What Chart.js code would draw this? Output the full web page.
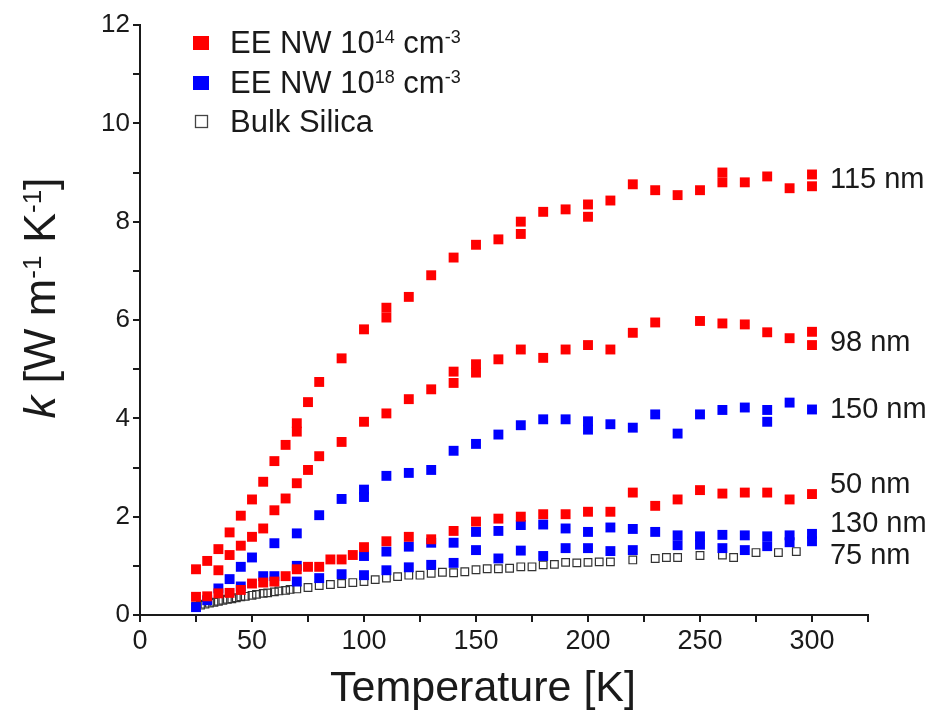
<!DOCTYPE html>
<html>
<head>
<meta charset="utf-8">
<script src="https://cdn.jsdelivr.net/npm/chart.js@4.4.0/dist/chart.umd.min.js"></script>
<style>
html, body { margin: 0; padding: 0; background: #fff; }
</style>
</head>
<body>
<canvas id="kChart" width="952" height="714"></canvas>
<script>
// temperatures [K] and thermal conductivity k [W m-1 K-1]
const t115 = [25, 30, 35, 40, 45, 50, 55, 60, 65, 70, 70, 75, 80, 90, 100, 110, 110, 120, 130, 140, 150, 160, 170, 170, 180, 190, 200, 200, 210, 220, 230, 240, 250, 260, 260, 270, 280, 290, 300, 300];
const k115 = [0.93, 1.10, 1.34, 1.68, 2.02, 2.35, 2.71, 3.13, 3.46, 3.73, 3.9, 4.33, 4.74, 5.22, 5.81, 6.05, 6.25, 6.47, 6.91, 7.27, 7.53, 7.64, 7.75, 8.0, 8.2, 8.25, 8.1, 8.35, 8.43, 8.76, 8.64, 8.54, 8.64, 8.8, 9.0, 8.8, 8.92, 8.68, 8.72, 8.96];

const t98 = [35, 40, 45, 50, 55, 60, 65, 70, 75, 80, 90, 100, 110, 120, 130, 140, 140, 150, 150, 160, 170, 180, 190, 200, 210, 220, 230, 250, 260, 270, 280, 290, 300, 300];
const k98 = [0.91, 1.22, 1.41, 1.59, 1.76, 2.13, 2.37, 2.68, 2.95, 3.23, 3.52, 3.93, 4.1, 4.39, 4.59, 4.72, 4.95, 4.93, 5.1, 5.2, 5.4, 5.23, 5.4, 5.49, 5.4, 5.74, 5.95, 5.98, 5.93, 5.91, 5.75, 5.63, 5.76, 5.49];

const t50 = [25, 30, 35, 40, 45, 50, 55, 60, 65, 70, 75, 80, 85, 90, 95, 100, 110, 120, 130, 140, 150, 160, 170, 180, 190, 200, 210, 220, 230, 240, 250, 260, 270, 280, 290, 300];
const k50 = [0.37, 0.38, 0.44, 0.45, 0.51, 0.64, 0.66, 0.68, 0.79, 0.93, 0.98, 0.98, 1.13, 1.13, 1.22, 1.38, 1.50, 1.59, 1.54, 1.71, 1.9, 1.96, 2.0, 2.05, 2.05, 2.1, 2.1, 2.49, 2.22, 2.35, 2.54, 2.47, 2.49, 2.49, 2.35, 2.46];

const t150 = [40, 45, 50, 60, 70, 80, 90, 100, 100, 110, 120, 130, 140, 150, 160, 170, 180, 190, 200, 200, 210, 220, 230, 240, 250, 260, 270, 280, 280, 290, 300];
const k150 = [0.73, 0.98, 1.17, 1.46, 1.66, 2.03, 2.36, 2.4, 2.55, 2.83, 2.89, 2.95, 3.34, 3.48, 3.67, 3.86, 3.98, 3.98, 3.77, 3.94, 3.88, 3.81, 4.08, 3.69, 4.08, 4.17, 4.22, 4.17, 3.93, 4.32, 4.18];

const t130 = [25, 30, 35, 45, 70, 100, 110, 120, 130, 140, 150, 160, 170, 180, 190, 200, 210, 220, 230, 240, 250, 260, 270, 280, 290, 300];
const k130 = [0.16, 0.3, 0.54, 0.58, 1.0, 1.2, 1.29, 1.39, 1.47, 1.47, 1.69, 1.71, 1.83, 1.84, 1.76, 1.69, 1.78, 1.75, 1.69, 1.62, 1.6, 1.63, 1.62, 1.6, 1.62, 1.65];

const t75 = [55, 60, 70, 80, 90, 100, 110, 120, 130, 140, 150, 160, 170, 180, 190, 200, 210, 220, 240, 250, 260, 270, 280, 290, 300];
const k75 = [0.79, 0.79, 0.68, 0.75, 0.83, 0.81, 0.91, 0.97, 1.02, 1.06, 1.32, 1.15, 1.31, 1.2, 1.36, 1.36, 1.30, 1.32, 1.42, 1.43, 1.36, 1.32, 1.4, 1.48, 1.5];

const tBulk = [25, 27, 29, 31, 33, 35, 37, 39, 41, 43, 45, 47, 50, 52, 55, 57, 60, 62, 65, 67, 70, 75, 80, 85, 90, 95, 100, 105, 110, 115, 120, 125, 130, 135, 140, 145, 150, 155, 160, 165, 170, 175, 180, 185, 190, 195, 200, 205, 210, 220, 230, 235, 240, 250, 260, 265, 275, 285, 293];
const kBulk = [0.18, 0.2, 0.22, 0.24, 0.26, 0.28, 0.3, 0.32, 0.33, 0.35, 0.37, 0.38, 0.4, 0.42, 0.44, 0.45, 0.47, 0.49, 0.5, 0.52, 0.53, 0.56, 0.6, 0.62, 0.64, 0.66, 0.68, 0.72, 0.75, 0.78, 0.81, 0.81, 0.85, 0.87, 0.86, 0.88, 0.92, 0.94, 0.94, 0.95, 0.98, 0.98, 1.02, 1.03, 1.07, 1.06, 1.07, 1.08, 1.08, 1.12, 1.15, 1.17, 1.17, 1.21, 1.22, 1.17, 1.27, 1.27, 1.29];

// curve labels on the right
const curveNames = ['115 nm', '98 nm', '150 nm', '50 nm', '130 nm', '75 nm'];
const curveK = [8.84, 5.53, 4.17, 2.64, 1.85, 1.2];
const curveT = 308;

const legendNames = [['EE NW 10', '14', ' cm', '-3'], ['EE NW 10', '18', ' cm', '-3'], ['Bulk Silica']];

const xTicks = [0, 50, 100, 150, 200, 250, 300];
const yTicks = [0, 2, 4, 6, 8, 10, 12];

const RED = 'rgb(255, 0, 0)';
const BLUE = 'rgb(0, 0, 255)';
const INK = '#1a1a1a';
const SANS = '"Liberation Sans", Arial, sans-serif';

function pts(ts, ks) {
    return ts.map((t, i) => ({ x: t, y: ks[i] }));
}

function filled(data, color) {
    return { data: data, pointStyle: 'rect', pointRadius: 7, backgroundColor: color, borderColor: color, borderWidth: 0, showLine: false };
}

// draw a row of text pieces, some of them superscripts
function drawRuns(ctx, runs, x, y, size, center) {
    let widths = runs.map(r => {
        ctx.font = (r.italic ? 'italic ' : '') + (r.sup ? Math.round(size * 0.58) : size) + 'px ' + SANS;
        return ctx.measureText(r.t).width;
    });
    let total = widths.reduce((a, b) => a + b, 0);
    let cx = center ? x - total / 2 : x;
    runs.forEach((r, i) => {
        ctx.font = (r.italic ? 'italic ' : '') + (r.sup ? Math.round(size * 0.58) : size) + 'px ' + SANS;
        ctx.fillText(r.t, cx, r.sup ? y - size * 0.32 : y);
        cx += widths[i];
    });
}

const textPlugin = {
    id: 'textPlugin',
    afterDraw(chart) {
        const ctx = chart.ctx;
        const xs = chart.scales.x, ys = chart.scales.y;
        ctx.save();
        ctx.fillStyle = INK;
        ctx.textBaseline = 'alphabetic';
        ctx.textAlign = 'left';

        // legend
        const rowY = [43, 83, 122];
        legendNames.forEach((parts, i) => {
            if (i < 2) {
                ctx.fillStyle = i === 0 ? RED : BLUE;
                ctx.fillRect(193, rowY[i] - 7, 16, 14);
            } else {
                ctx.strokeStyle = '#444';
                ctx.lineWidth = 1.3;
                ctx.strokeRect(195.5, rowY[i] - 6.5, 12, 12);
            }
            ctx.fillStyle = INK;
            const runs = parts.map((p, j) => ({ t: p, sup: j % 2 === 1 }));
            drawRuns(ctx, runs, 230, rowY[i] + 10, 31, false);
        });

        // curve labels
        ctx.font = '29px ' + SANS;
        ctx.textBaseline = 'middle';
        curveNames.forEach((n, i) => {
            ctx.fillText(n, xs.getPixelForValue(curveT), ys.getPixelForValue(curveK[i]));
        });

        // x title
        ctx.textBaseline = 'alphabetic';
        drawRuns(ctx, [{ t: 'Temperature [K]' }], 483, 701, 43, true);

        // y title
        ctx.translate(40, 298);
        ctx.rotate(-Math.PI / 2);
        drawRuns(ctx, [{ t: 'k', italic: true }, { t: ' [W m' }, { t: '-1', sup: true }, { t: ' K' }, { t: '-1', sup: true }, { t: ']' }], 0, 15, 45, true);
        ctx.restore();
    }
};

new Chart(document.getElementById('kChart').getContext('2d'), {
    type: 'scatter',
    data: {
        datasets: [
            filled(pts(t115, k115), RED),
            filled(pts(t98, k98), RED),
            filled(pts(t50, k50), RED),
            filled(pts(t150, k150), BLUE),
            filled(pts(t130, k130), BLUE),
            filled(pts(t75, k75), BLUE),
            { data: pts(tBulk, kBulk), pointStyle: 'rect', pointRadius: 5.4, backgroundColor: 'rgba(255,255,255,0)', borderColor: '#333', borderWidth: 1.2, showLine: false }
        ]
    },
    options: {
        responsive: false,
        animation: false,
        layout: { padding: { left: 0, right: 84, top: 25, bottom: 0 } },
        plugins: { legend: { display: false }, tooltip: { enabled: false } },
        scales: {
            x: {
                type: 'linear', min: 0, max: 325,
                afterFit: s => { s.height = 99; },
                border: { display: true, color: INK, width: 2 },
                grid: { display: true, drawOnChartArea: false, drawTicks: true, tickLength: 7, color: INK, lineWidth: 2 },
                ticks: {
                    stepSize: 25, autoSkip: false, maxRotation: 0, padding: 3, color: INK,
                    font: { family: SANS, size: 27 },
                    callback: v => xTicks.includes(v) ? String(v) : ''
                }
            },
            y: {
                min: 0, max: 12,
                afterFit: s => { s.width = 140; },
                border: { display: true, color: INK, width: 2 },
                grid: { display: true, drawOnChartArea: false, drawTicks: true, tickLength: 7, color: INK, lineWidth: 2 },
                ticks: {
                    stepSize: 1, autoSkip: false, padding: 3, color: INK,
                    font: { family: SANS, size: 26 },
                    callback: v => yTicks.includes(v) ? String(v) : ''
                }
            }
        }
    },
    plugins: [textPlugin]
});
</script>
</body>
</html>
